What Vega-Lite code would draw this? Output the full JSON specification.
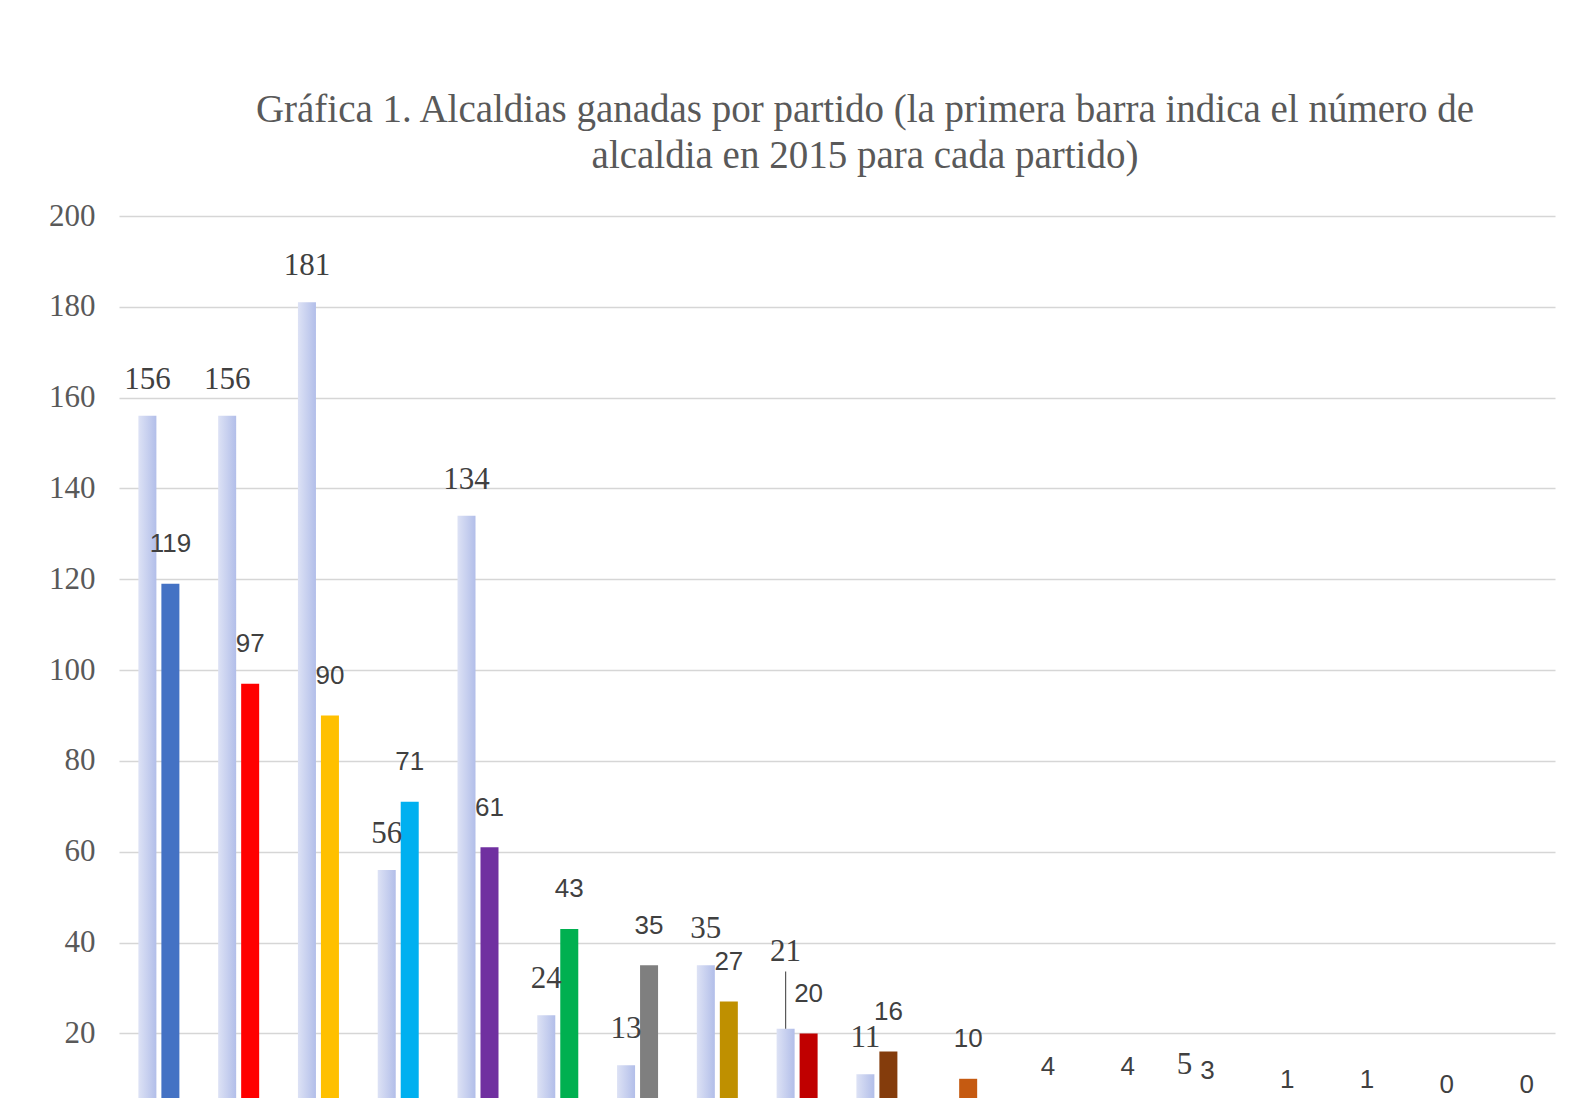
{
  "$schema": "https://vega.github.io/schema/vega-lite/v6.json",
  "autosize": "none",
  "width": 1436,
  "height": 882,
  "padding": {"left": 119, "top": 216, "right": 29, "bottom": 0},
  "background": "white",
  "config": {"view": {"stroke": null}},
  "title": {
    "text": ["Gráfica 1. Alcaldias  ganadas por partido  (la primera barra indica  el número de", "alcaldia  en 2015  para cada partido)"],
    "font": "Liberation Serif",
    "fontSize": 39,
    "fontWeight": "normal",
    "color": "#595959",
    "lineHeight": 46,
    "anchor": "middle",
    "frame": "group",
    "dx": 28,
    "offset": 24
  },
  "data": {
    "values": [
      {"party": "P01", "year": "2015", "value": 156},
      {"party": "P01", "year": "2019", "value": 119},
      {"party": "P02", "year": "2015", "value": 156},
      {"party": "P02", "year": "2019", "value": 97},
      {"party": "P03", "year": "2015", "value": 181},
      {"party": "P03", "year": "2019", "value": 90},
      {"party": "P04", "year": "2015", "value": 56},
      {"party": "P04", "year": "2019", "value": 71},
      {"party": "P05", "year": "2015", "value": 134},
      {"party": "P05", "year": "2019", "value": 61},
      {"party": "P06", "year": "2015", "value": 24},
      {"party": "P06", "year": "2019", "value": 43},
      {"party": "P07", "year": "2015", "value": 13},
      {"party": "P07", "year": "2019", "value": 35},
      {"party": "P08", "year": "2015", "value": 35},
      {"party": "P08", "year": "2019", "value": 27},
      {"party": "P09", "year": "2015", "value": 21},
      {"party": "P09", "year": "2019", "value": 20},
      {"party": "P10", "year": "2015", "value": 11},
      {"party": "P10", "year": "2019", "value": 16},
      {"party": "P11", "year": "2019", "value": 10},
      {"party": "P12", "year": "2019", "value": 4},
      {"party": "P13", "year": "2019", "value": 4},
      {"party": "P14", "year": "2015", "value": 5},
      {"party": "P14", "year": "2019", "value": 3},
      {"party": "P15", "year": "2019", "value": 1},
      {"party": "P16", "year": "2019", "value": 1},
      {"party": "P17", "year": "2019", "value": 0},
      {"party": "P18", "year": "2019", "value": 0}
    ]
  },
  "encoding": {
    "x": {"field": "party", "type": "nominal", "axis": null,
          "scale": {"domain": ["P01","P02","P03","P04","P05","P06","P07","P08","P09","P10","P11","P12","P13","P14","P15","P16","P17","P18"],
                    "paddingInner": 0, "paddingOuter": 0}},
    "xOffset": {"field": "year", "type": "nominal",
                "scale": {"domain": ["2015", "2019"], "paddingInner": 0.217, "paddingOuter": 0.843}},
    "y": {"field": "value", "type": "quantitative",
          "scale": {"domain": [5.77, 200], "zero": false, "nice": false},
          "axis": {"values": [20, 40, 60, 80, 100, 120, 140, 160, 180, 200], "title": null,
                   "domain": false, "ticks": false, "labelPadding": 24,
                   "labelFont": "Liberation Serif", "labelFontSize": 31, "labelColor": "#595959",
                   "grid": true, "gridColor": "#d6d6d6", "gridWidth": 1.6}}
  },
  "layer": [
    {
      "transform": [{"filter": "datum.year == '2015'"}],
      "mark": {"type": "bar", "clip": true,
               "color": {"gradient": "linear", "x1": 0, "y1": 0, "x2": 1, "y2": 0,
                         "stops": [{"offset": 0, "color": "#dde2f5"}, {"offset": 1, "color": "#b2bee9"}]}}
    },
    {
      "transform": [{"filter": "datum.year == '2019'"}],
      "mark": {"type": "bar", "clip": true},
      "encoding": {
        "color": {"field": "party", "type": "nominal", "legend": null,
                  "scale": {"domain": ["P01","P02","P03","P04","P05","P06","P07","P08","P09","P10","P11","P12","P13","P14","P15","P16","P17","P18"],
                            "range": ["#4472c4","#ff0000","#ffc000","#00b0f0","#7030a0","#00b050","#7f7f7f","#bf9000","#c00000","#843c0c","#c55a11","#a5a5a5","#5b9bd5","#70ad47","#264478","#9e480e","#636363","#997300"]}}
      }
    },
    {
      "transform": [{"filter": "datum.year == '2015' && datum.party != 'P09'"}],
      "mark": {"type": "text", "font": "Liberation Serif", "fontSize": 31, "color": "#404040", "baseline": "middle", "dy": -36},
      "encoding": {"text": {"field": "value", "type": "quantitative"}}
    },
    {
      "transform": [{"filter": "datum.year == '2019'"}],
      "mark": {"type": "text", "font": "Liberation Sans", "fontSize": 26, "color": "#404040", "baseline": "middle", "dy": -39.5},
      "encoding": {"text": {"field": "value", "type": "quantitative"}}
    },
    {
      "transform": [{"filter": "datum.year == '2015' && datum.party == 'P09'"}],
      "mark": {"type": "text", "font": "Liberation Serif", "fontSize": 31, "color": "#404040", "baseline": "middle", "dy": -77},
      "encoding": {"text": {"field": "value", "type": "quantitative"}}
    },
    {
      "transform": [{"filter": "datum.year == '2015' && datum.party == 'P09'"}],
      "mark": {"type": "rule", "color": "#595959", "strokeWidth": 1.2},
      "encoding": {"y2": {"datum": 33.6}}
    }
  ]
}
